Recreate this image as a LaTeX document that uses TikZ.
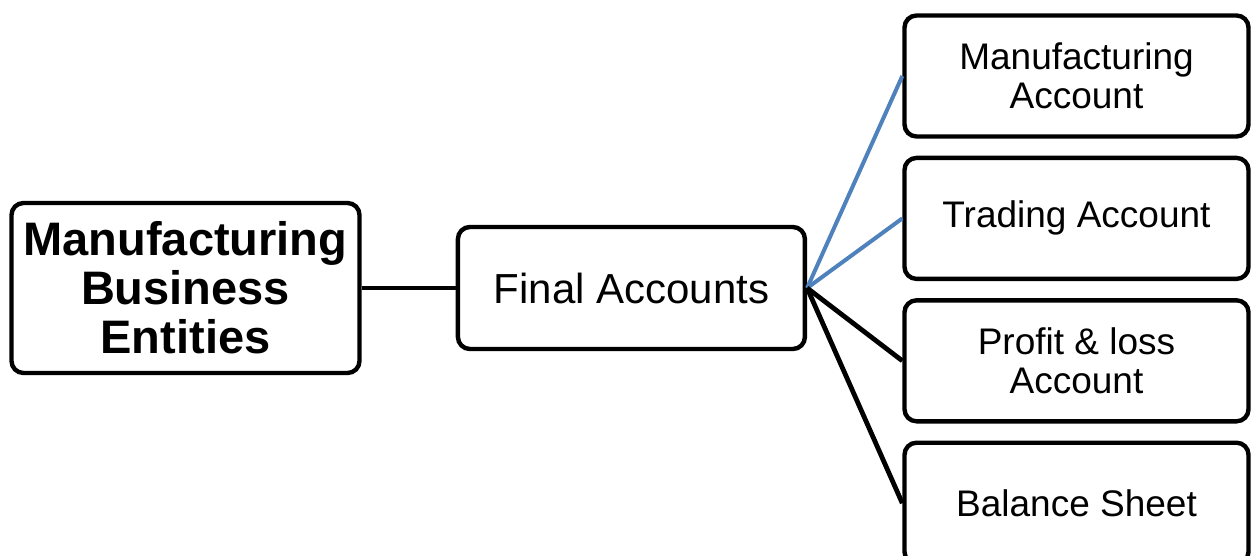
\documentclass[tikz,border=0pt]{standalone}
\usepackage{fontspec}
\setmainfont{Liberation Sans}
\usetikzlibrary{calc,
positioning}
\definecolor{linkblue}{RGB}{79,129,189}

\begin{document}
\begin{tikzpicture} [
        >=latex,
        line width = 2.4pt,
        main node/.style={rectangle, rounded corners = 6pt, fill = white,
                draw, line width = 2.2pt, align=center},
        acc node/.style={main node, minimum width = 172pt,
                minimum height = 60.5pt,
                font = \fontsize{18.5}{19.5}\selectfont}]

    \useasboundingbox (0, 0) rectangle (625.5pt, -278pt);

    \node [
        main node,
        minimum width = 174pt,
        minimum height = 85pt,
        font = \fontsize{23.5}{24.5}\selectfont\bfseries
    ] (entities) at (92.75pt, -144pt) {Manufacturing\\Business\\Entities};

    \node [
        main node,
        minimum width = 173.5pt,
        minimum height = 61pt,
        font = \fontsize{21}{22}\selectfont,
        right = 47pt of entities
    ] (final)  {Final Accounts};

    \node [
        acc node
    ] (mfg_acc) at (538.25pt, -38pt) {Manufacturing\\Account};

    \node [
        acc node,
        below = 8.5pt of mfg_acc
    ] (trading_acc)  {Trading Account};

    \node [
        acc node,
        below = 8.5pt of trading_acc
    ] (pl_acc)  {Profit \& loss\\Account};

    \node [
        acc node,
        below = 8.5pt of pl_acc
    ] (balance)  {Balance Sheet};

    \draw (entities) -- (final);
    \draw [linkblue, line width = 2pt] (final.east) -- (mfg_acc.west);
    \draw [linkblue, line width = 2pt] (final.east) -- (trading_acc.west);
    \draw (final.east) -- (pl_acc.west);
    \draw (final.east) -- (balance.west);

\end{tikzpicture}
\end{document}
